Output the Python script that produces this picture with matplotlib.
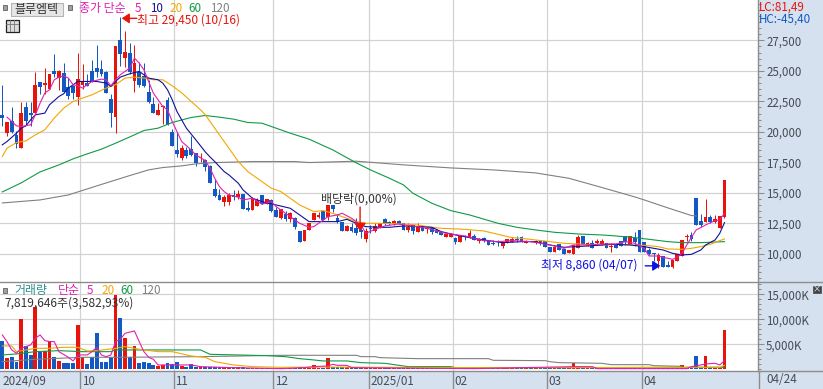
import matplotlib
matplotlib.use("Agg")
import matplotlib.pyplot as plt
from matplotlib.patches import Rectangle
from matplotlib.lines import Line2D
from matplotlib.ticker import MultipleLocator, FixedLocator, FuncFormatter

plt.rcParams['font.family'] = ['Noto Sans CJK KR', 'DejaVu Sans']

# ---- candle data (won) ----
opens = [21400,19920,20900,19760,18700,22050,21560,21560,24100,23860,
 23530,25000,24430,24840,23700,23780,22870,23860,24020,25000,
 25250,25170,24920,22710,21230,27550,26070,26480,24180,24920,
 24600,23280,22300,21400,22050,22630,20000,18530,17870,18530,
 18610,18280,17870,17710,17220,15330,14840,14260,14260,14840,
 14670,14920,13770,13610,13940,14840,14100,14430,13610,12950,
 13280,12870,12950,11890,11070,11970,12790,13030,13530,13030,
 14020,12950,12620,11890,12210,12130,11970,11230,12130,11890,
 12210,12870,12620,12460,12700,12540,11970,12380,11800,12300,
 12050,12130,11970,11800,11390,11400,11310,10980,11480,11390,
 11480,11070,11310,11070,10900,10820,10660,10900,10980,11230,
 11390,10900,11070,10940,11070,11070,10570,10160,10820,10410,
 10080,10000,10490,11480,10660,10900,10900,10820,10900,10570,
 10820,11070,11480,10820,11310,11970,10980,10330,10080,9430,
 9840,9100,8900,9430,9840,11390,11560,14590,12700,12620,
 13030,12620,12130,13030]
closes = [21150,20820,20000,19020,21560,20900,21400,23860,23700,24000,
 24760,24760,25000,23280,22960,23200,24350,24100,23780,24100,
 24920,24760,23200,21560,27060,26400,26560,24920,25660,23860,
 23780,22460,21560,21810,22100,20580,18860,18200,18690,18040,
 18120,17460,17950,17130,15820,14760,14430,14670,14840,14670,
 14920,13690,13610,14510,14430,14100,14510,13530,13030,13690,
 12870,13360,12210,10980,11970,12540,13360,13200,12790,14020,
 13690,12620,11890,12300,11890,11720,11800,11890,12050,12300,
 12540,12460,12460,12700,12460,11970,12210,11890,12300,11890,
 12130,11800,11720,11560,11640,11640,10980,11480,11390,11720,
 11150,11230,11070,10740,10820,10780,10980,11230,11230,11150,
 10980,11070,10980,11070,10980,10570,10160,10570,10330,10000,
 10330,10740,11390,10820,10900,10490,11070,11070,10490,10660,
 10490,10660,10980,11480,10980,10160,10160,10000,10000,9920,
 8930,8930,9510,10000,11150,11480,11230,12380,12380,13030,
 12620,12870,13120,16070]
highs = [23860,20820,22000,20090,22460,22460,22460,24920,24100,25250,
 24760,26400,25090,25660,24430,23860,26480,25580,24760,25910,
 27140,25910,25000,23120,27060,29450,28290,27300,27140,25740,
 25660,24270,22870,22380,22220,22870,20250,20000,18940,18770,
 19680,18280,18280,17790,17300,16150,15330,14840,15000,15250,
 15250,14920,14350,14670,14590,14840,14510,14510,13850,13690,
 13530,13440,13030,11890,11970,12540,13360,13440,13530,14020,
 14020,13280,12620,12380,12540,12950,12130,12130,12380,12540,
 12540,12950,12700,12800,12790,12540,12540,12380,12540,12300,
 12210,12210,12050,11800,11640,11720,11390,11480,11560,11970,
 11640,11310,11390,11070,11150,11150,10980,11230,11390,11480,
 11480,11150,11100,11150,11150,11070,10570,10570,10820,10410,
 10330,10740,11560,11480,10980,11150,11230,11230,10900,10900,
 10820,11070,11480,11480,11800,11970,10980,10500,10080,10080,
 9840,9430,9510,10000,11150,11640,11800,14590,13280,14510,
 13200,13200,13120,16070]
lows = [20500,19680,19900,18700,18700,20580,20500,21560,23120,23120,
 23530,24510,23450,23280,22710,22710,22220,23530,23780,24100,
 24510,24600,23200,20400,19920,25420,25330,24760,23280,23700,
 23700,22380,21560,21400,20660,20580,18860,17950,17710,17870,
 18040,17220,17540,16810,15820,14670,14430,13940,14020,14430,
 14510,13690,13530,13610,13900,14100,14100,13450,13030,12870,
 12710,12620,12050,10980,11070,11970,12790,12950,12790,12790,
 13440,12540,11890,11890,11800,11560,11320,10980,11720,11800,
 12130,12380,12380,12380,12460,11970,11800,11640,11800,11890,
 11720,11640,11720,11560,11390,11400,10820,10980,11150,11310,
 11150,10900,10980,10740,10740,10650,10500,10900,10980,10980,
 10980,10900,10980,10820,10740,10570,10160,10160,10330,10000,
 10080,10000,10490,10820,10660,10490,10800,10740,10490,10160,
 10490,10660,10740,10820,10660,10160,10160,9920,9430,8860,
 8930,8930,8880,9430,9840,11070,11070,12380,12210,12620,
 12540,12540,12130,12950]
volumes_k = [5670,2330,2530,1530,10070,4670,2870,12530,3530,3670,
 5670,2530,1730,1200,1330,1330,8870,2530,1070,2530,
 7330,1530,1530,2530,14870,10330,6330,2400,4670,1330,
 1530,1200,870,730,870,1330,1000,1530,730,530,
 1070,530,530,530,530,530,400,400,400,400,
 400,400,330,330,300,300,300,280,280,280,
 280,280,260,530,330,280,800,300,280,2330,
 470,470,470,470,250,250,250,250,250,250,
 250,220,220,220,220,220,220,220,220,220,
 220,220,200,200,200,200,200,200,200,200,
 180,180,180,180,180,180,180,180,180,180,
 180,180,180,180,180,180,180,180,180,180,
 180,1200,400,300,200,180,180,180,180,180,
 180,180,180,180,180,180,180,180,180,180,
 180,180,180,250,800,300,300,2670,500,2670,
 500,300,300,7820]

# ---- moving averages: (session number, won) ----
ma5_i = [1,2,3,4,6,7,8,9,10,11,12,13,14,15,16,17,18,19,21,22,23,24,25,27,28,29,30,31,32,34,35,36,37,38,40,41,43,44,45,46,47,48,50,51,53,55,57,58,60,62,63,65,66,68,69,71,72,74,76,77,79,81,84,85,87,90,92,94,98,102,105,108,112,116,119,121,124,127,130,132,134,136,137,139,140,142,143,144,145,146,147,149,151,152,153]
ma5_v = [21208,20853,20497,20443,20580,21399,22356,23176,23449,24269,24487,24597,24405,23859,23777,23586,23859,24132,24323,24269,23777,24269,24679,25225,26045,25635,25089,24132,23176,22082,21809,20853,20033,19213,18529,18118,17654,17025,16206,15522,15112,14839,14648,14429,14566,14074,14292,13883,13336,12788,12515,12187,12242,12788,13062,13199,13335,12925,12379,11695,12023,12297,12461,12379,12297,12105,11887,11695,11477,11094,11012,11094,11012,10739,10465,10739,10739,10821,10821,11012,10876,10466,9837,9837,9728,9564,9728,10056,10739,11368,11969,12379,12734,12789,13335]
ma10_i = [0,1,3,4,5,6,7,9,10,12,13,14,16,18,20,22,23,24,25,27,29,30,31,33,34,35,36,37,39,41,43,44,45,47,48,50,51,53,55,58,61,63,65,69,71,73,75,77,80,82,85,88,91,93,96,99,103,106,110,113,116,119,124,127,129,133,136,138,140,142,144,146,148,149,151,152,153]
ma10_v = [18940,19213,19896,20306,20497,20989,21399,21536,22219,22902,23121,23586,24132,24132,24132,23996,23722,24132,24487,24761,24952,24679,24405,24269,23996,23449,22629,21672,20306,19349,18364,17950,17572,16752,16479,15796,15249,14566,14292,14019,13746,13199,12652,12652,12652,12843,12515,12242,12187,12187,12297,12242,12187,11832,11559,11340,11094,10930,11012,11012,10739,10548,10657,10739,10794,10739,10602,10466,10329,10056,9919,9974,10329,10739,11149,11696,12570]
ma20_i = [0,1,3,5,7,9,11,13,15,17,19,22,24,26,28,30,32,34,36,38,40,42,43,44,46,48,50,52,54,57,59,61,63,66,68,70,73,75,77,80,85,88,91,93,98,102,105,108,110,113,116,119,122,125,127,131,134,137,139,141,144,146,148,150,152,153]
ma20_v = [17983,18666,19131,19268,19759,20170,21126,21946,22492,22766,23039,23586,23859,24405,24487,24405,24269,24269,23777,23200,22500,21809,21400,20852,19758,18665,17572,16752,16206,15386,15112,14565,14018,13472,13554,13335,12925,12652,12515,12515,12461,12379,12187,12105,12023,11887,11613,11340,11285,11149,11012,10876,10821,10739,10739,10794,10739,10684,10602,10411,10384,10466,10602,10794,11094,11231]
ma60_i = [0,4,8,12,15,18,21,24,28,30,33,36,40,43,46,49,52,55,57,61,65,70,75,78,82,85,87,91,95,99,105,109,113,117,122,127,130,134,137,141,144,148,153]
ma60_v = [15084,15822,16724,17298,17790,18202,18584,19076,19759,20115,20306,20770,21180,21344,21208,21044,20770,20715,20442,19895,19403,18528,17462,16888,16205,15658,14975,14155,13554,13198,12515,12187,11969,11777,11640,11559,11477,11340,11204,11012,10930,10930,11012]
ma120_i = [0,8,14,20,27,31,34,38,41,45,48,53,62,65,75,85,95,104,113,120,127,134,136,141,146,147]
ma120_v = [14182,14428,14838,15576,16424,16889,17080,17217,17381,17490,17517,17572,17572,17490,17600,17300,17050,16888,16640,16205,15450,14674,14428,13775,13150,13116]

volma5_i = [0,1,2,3,4,6,7,8,9,10,11,12,14,15,16,18,19,20,21,22,23,24,25,26,28,29,30,31,32,33,35,40,42,49,59,64,66,69,70,71,73,74,100,110,121,125,126,145,146,148,149,151,152,153]
volma5_v = [6870,5540,3870,3200,4200,4870,6200,6870,5740,5540,5540,3530,2400,1670,2870,2870,3530,4400,2870,2530,2870,5540,6000,7200,7670,5540,3530,2400,2000,870,870,870,530,330,130,330,530,670,1000,800,800,330,130,330,530,530,130,130,530,870,1070,1200,870,1730]
volma20_i = [0,2,3,7,10,13,16,18,20,24,26,29,33,36,40,43,45,49,53,59,70,80,100,130,152,153]
volma20_v = [4670,4670,3530,4200,4200,4400,4400,3670,3730,4200,4540,4000,3530,3530,2670,2400,1530,870,530,400,450,400,330,350,400,800]
volma60_i = [0,3,7,12,17,23,24,42,44,56,60,63,66,68,73,76,81,84,86,95,96,120,145,153]
volma60_v = [2870,3070,3530,3730,3530,3530,3870,3870,3000,2730,2530,2130,1870,1670,1670,1330,1200,800,530,530,330,330,400,400]
volma120_i = [0,7,17,24,42,59,75,76,79,80,88,103,104,115,116,118,127,129,137,138,144]
volma120_v = [1530,2000,2400,2400,2530,2800,2800,2530,2530,2330,2130,2130,1800,1730,1530,1330,1200,930,930,730,600]

price_ticks = [10000,12500,15000,17500,20000,22500,25000,27500]
volume_ticks = [5000,10000,15000]
month_pos = [16.53,36.4,57.4,77.6,95.55,115.4,135.5]
month_labels = ['10','11','12','2025/01','02','03','04']

RED, BLUE = '#e8140c', '#1259c3'
PINK, NAVY, ORANGE, GREEN, GRAY = '#e020b0', '#10109a', '#f0a800', '#0f9a45', '#808080'
BAND, GRID, EDGE = '#d6e1ef', '#d2d2d2', '#8c8c8c'
W, H = 823, 389

def px(x, y):
    return x / W, 1 - y / H

def make_ax(x0, y0, x1, y1):
    return fig.add_axes([x0 / W, 1 - y1 / H, (x1 - x0) / W, (y1 - y0) / H])

def label(x, y, s, color, size=8.4, **kw):
    fx, fy = px(x, y)
    fig.text(fx, fy, s, color=color, fontsize=size, va='center', ha=kw.pop('ha', 'left'), **kw)

fig = plt.figure(figsize=(W / 100, H / 100), dpi=100, facecolor=BAND)
xlim = (-0.487, 160.1)
idx = list(range(len(closes)))
cols = [RED if c >= o else BLUE for o, c in zip(opens, closes)]

# ---- price panel ----
ax = make_ax(0, 0, 758, 281.5)
ax.set_facecolor('white')
ax.set_xlim(*xlim)
ax.set_ylim(10000 + (254 - 281.5) * 81.9, 10000 + 254 * 81.9)
ax.vlines(idx, lows, highs, colors=cols, lw=0.72, zorder=3)
ax.bar(idx, [abs(c - o) for o, c in zip(opens, closes)], bottom=[min(o, c) for o, c in zip(opens, closes)],
       width=0.8, color=cols, lw=0, zorder=3, antialiased=False)
for xs, ys, c in [(ma120_i, ma120_v, GRAY), (ma60_i, ma60_v, GREEN), (ma20_i, ma20_v, ORANGE),
                  (ma10_i, ma10_v, NAVY), (ma5_i, ma5_v, PINK)]:
    ax.plot(xs, ys, color=c, lw=0.8, zorder=4)
ax.annotate('', xy=(25.3, 29300), xytext=(28.5, 29300),
            arrowprops=dict(arrowstyle='-|>,head_width=0.3,head_length=0.45', color=RED, lw=1, shrinkA=0, shrinkB=0), zorder=6)
ax.annotate('', xy=(139.4, 9030), xytext=(136.2, 9030),
            arrowprops=dict(arrowstyle='-|>,head_width=0.3,head_length=0.45', color='#1010e0', lw=1, shrinkA=0, shrinkB=0), zorder=6)
ax.annotate('', xy=(75.8, 11900), xytext=(75.8, 13850),
            arrowprops=dict(arrowstyle='-|>,head_width=0.35,head_length=0.45', color=RED, lw=1, shrinkA=0, shrinkB=0), zorder=6)

# ---- volume panel ----
vax = make_ax(0, 282, 758, 370.5)
vax.set_facecolor('white')
vax.set_xlim(*xlim)
vax.set_ylim((369.3 - 370.5) * 200, (369.3 - 282) * 200)
vax.bar(idx, volumes_k, width=0.8, color=cols, lw=0, zorder=3, antialiased=False)
for xs, ys, c in [(volma120_i, volma120_v, GRAY), (volma60_i, volma60_v, GREEN),
                  (volma20_i, volma20_v, ORANGE), (volma5_i, volma5_v, PINK)]:
    vax.plot(xs, ys, color=c, lw=0.8, zorder=4)

for a, major, minor, fmt in [(ax, price_ticks, 500, '{:,.0f}'), (vax, volume_ticks, 1000, '{:,.0f}K')]:
    a.yaxis.tick_right()
    a.yaxis.set_major_locator(FixedLocator(major))
    a.yaxis.set_minor_locator(MultipleLocator(minor))
    a.yaxis.set_major_formatter(FuncFormatter(lambda v, p, f=fmt: f.format(v).replace('.', ',')))
    a.tick_params(axis='y', which='major', length=4.3, width=0.75, color=EDGE, labelcolor='#454c55',
                  labelsize=8.3, pad=1.5)
    a.tick_params(axis='y', which='minor', length=2.2, width=0.75, color=EDGE)
    a.set_xticks(month_pos)
    a.tick_params(axis='x', length=0, labelbottom=False)
    a.set_axisbelow(True)
    a.grid(True, which='major', color=GRID, lw=0.85)
    for s in ('top', 'left', 'bottom'):
        a.spines[s].set_visible(False)
    a.spines['right'].set_color(EDGE)
    a.spines['right'].set_linewidth(1)

# ---- date band ----
bax = make_ax(0, 370.5, 758, 389)
bax.set_facecolor(BAND)
bax.set_xlim(*xlim)
bax.set_ylim(0, 1)
bax.set_yticks([])
bax.set_xticks(month_pos)
bax.tick_params(axis='x', length=0, labelbottom=False)
bax.grid(True, axis='x', color=EDGE, lw=1)
for s in bax.spines.values():
    s.set_visible(False)
bax.text(0.0, 0.42, '2024/09', color='#454c55', fontsize=8.4, va='center')
for p, t in zip(month_pos, month_labels):
    bax.text(p + 0.3, 0.42, t, color='#454c55', fontsize=8.4, va='center')
label(766, 379.5, '04/24', '#454c55')
for y in (281.5, 370.8):
    fig.add_artist(Line2D([0, 1], [1 - y / H] * 2, color=EDGE, lw=1))
fig.add_artist(Line2D([758.5 / W] * 2, [1 - 372 / H, 1 - 389 / H], color=EDGE, lw=1))

# ---- header items ----
def box(x, y, w, h, **kw):
    fig.add_artist(Rectangle(px(x, y + h), w / W, h / H, transform=fig.transFigure, **kw))

box(3, 5, 4.5, 5, fc='#a0a0a0', ec='#707070', lw=0.7)
box(10.5, 2.5, 53, 13, fc='#e6e6e6', ec='#b4b4b4', lw=0.8)
box(67.5, 5, 4.5, 5, fc='#a0a0a0', ec='#707070', lw=0.7)
box(5.5, 19.5, 13, 12, fc='#dddddd', ec='#222222', lw=0.9)
for gx in (9.7, 14):
    fig.add_artist(Line2D([gx / W] * 2, [1 - 20 / H, 1 - 31 / H], color='#777777', lw=0.6))
fig.add_artist(Line2D([6 / W, 18 / W], [1 - 23.5 / H] * 2, color='#777777', lw=0.6))
label(14, 9, '블루엠텍', '#333333', 8.6)
label(79, 8.5, '종가 단순', PINK, 8.6)
label(135, 8.5, '5', PINK)
label(150, 8.5, '10', NAVY)
label(169, 8.5, '20', ORANGE)
label(188, 8.5, '60', GREEN)
label(210, 8.5, '120', GRAY)
label(137, 20.5, '최고 29,450 (10/16)', RED, 8.6)
label(541, 265.5, '최저 8,860 (04/07)', '#1010e0', 8.6)
label(321, 199.5, '배당락(0,00%)', '#333333', 8.6)
label(759, 7.5, 'LC:81,49', RED)
label(759, 19, 'HC:-45,40', BLUE)
box(3, 288, 4.5, 5, fc='#a0a0a0', ec='#707070', lw=0.7)
label(14, 290.5, '거래량', '#2b8f8f', 8.6)
label(58, 290.5, '단순', PINK, 8.6)
label(87, 290.5, '5', PINK)
label(101, 290.5, '20', ORANGE)
label(120, 290.5, '60', GREEN)
label(141, 290.5, '120', GRAY)
label(4, 303, '7,819,646주(3,582,93%)', '#333333', 8.6)
box(813, 286, 8, 6.5, fc='#444444', ec='#444444', lw=0.5)
label(817, 289.2, '×', 'white', 6, ha='center')

fig.savefig('out.png', dpi=100, facecolor=fig.get_facecolor())
